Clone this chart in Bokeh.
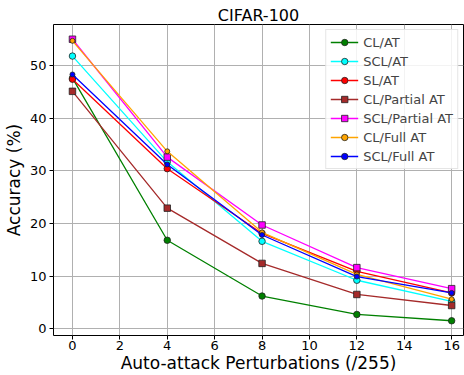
from bokeh.plotting import figure
from bokeh.models import Legend, LegendItem, Range1d, FixedTicker
from bokeh.embed import file_html
from bokeh.resources import INLINE

# Perturbation budgets (eps * 255)
eps = [0, 4, 8, 12, 16]

# Robust accuracy (%) per training scheme
cl_at = [47.6, 16.8, 6.2, 2.7, 1.5]
scl_at = [51.8, 31.7, 16.6, 9.2, 5.2]
sl_at = [47.4, 30.4, 18.1, 10.9, 6.8]
cl_partial_at = [45.1, 22.9, 12.4, 6.5, 4.4]
scl_partial_at = [55.0, 32.6, 19.7, 11.6, 7.6]
cl_full_at = [54.7, 33.7, 18.3, 10.3, 5.6]
scl_full_at = [48.3, 31.2, 17.8, 9.9, 6.8]

y_ticks = [0, 10, 20, 30, 40, 50]
x_ticks = [0, 2, 4, 6, 8, 10, 12, 14, 16]

FONT = "DejaVu Sans"

p = figure(
    width=464, height=375,
    min_border_left=53, min_border_right=1, min_border_top=24, min_border_bottom=39,
    output_backend="svg", toolbar_location=None,
    x_range=Range1d(-0.8, 16.5), y_range=Range1d(-1.3, 57.8),
    title="CIFAR-100",
)
p.title.text_font = FONT
p.title.text_font_size = "16px"
p.title.text_font_style = "normal"
p.title.text_color = "black"
p.title.align = "center"
p.title.standoff = 0

p.outline_line_color = "black"
p.outline_line_width = 1
p.background_fill_color = "white"
p.border_fill_color = "white"

for ax in (p.xaxis[0], p.yaxis[0]):
    ax.axis_line_color = None
    ax.major_tick_in = 0
    ax.major_tick_out = 4
    ax.minor_tick_line_color = None
    ax.major_label_text_font = FONT
    ax.major_label_text_font_size = "13px"
    ax.major_label_text_color = "black"
    ax.axis_label_text_font = FONT
    ax.axis_label_text_font_size = "17px"
    ax.axis_label_text_font_style = "normal"
    ax.axis_label_text_color = "black"

p.xaxis.ticker = FixedTicker(ticks=x_ticks)
p.yaxis.ticker = FixedTicker(ticks=y_ticks)
p.xaxis.axis_label = "Auto-attack Perturbations (/255)"
p.yaxis.axis_label = "Accuracy (%)"
p.xaxis.major_label_standoff = 1
p.xaxis.axis_label_standoff = 0
p.yaxis.major_label_standoff = 3
p.yaxis.axis_label_standoff = 3

p.grid.grid_line_color = "#b0b0b0"
p.grid.grid_line_width = 1

series = [
    ("CL/AT", cl_at, "#008000", "circle", 6.5),
    ("SCL/AT", scl_at, "#00ffff", "circle", 6.5),
    ("SL/AT", sl_at, "#ff0000", "circle", 6.5),
    ("CL/Partial AT", cl_partial_at, "#a52a2a", "square", 6.5),
    ("SCL/Partial AT", scl_partial_at, "#ff00ff", "square", 6.5),
    ("CL/Full AT", cl_full_at, "#ffa500", "circle", 5),
    ("SCL/Full AT", scl_full_at, "#0000ff", "circle", 5),
]

items = []
for label, vals, color, marker, size in series:
    ln = p.line(eps, vals, line_color=color, line_width=1.3)
    sc = p.scatter(eps, vals, marker=marker, size=size, fill_color=color,
                   line_color="#222222", line_width=0.8)
    items.append(LegendItem(label=label, renderers=[ln, sc]))

legend = Legend(items=items, location="top_right")
legend.label_text_font = FONT
legend.label_text_font_size = "13px"
legend.glyph_width = 28
legend.glyph_height = 16
legend.label_height = 16
legend.spacing = 3
legend.padding = 4
legend.margin = 5
legend.border_line_color = "#cccccc"
legend.background_fill_alpha = 0.85
p.add_layout(legend)

open("out.html", "w").write(file_html(p, INLINE))
